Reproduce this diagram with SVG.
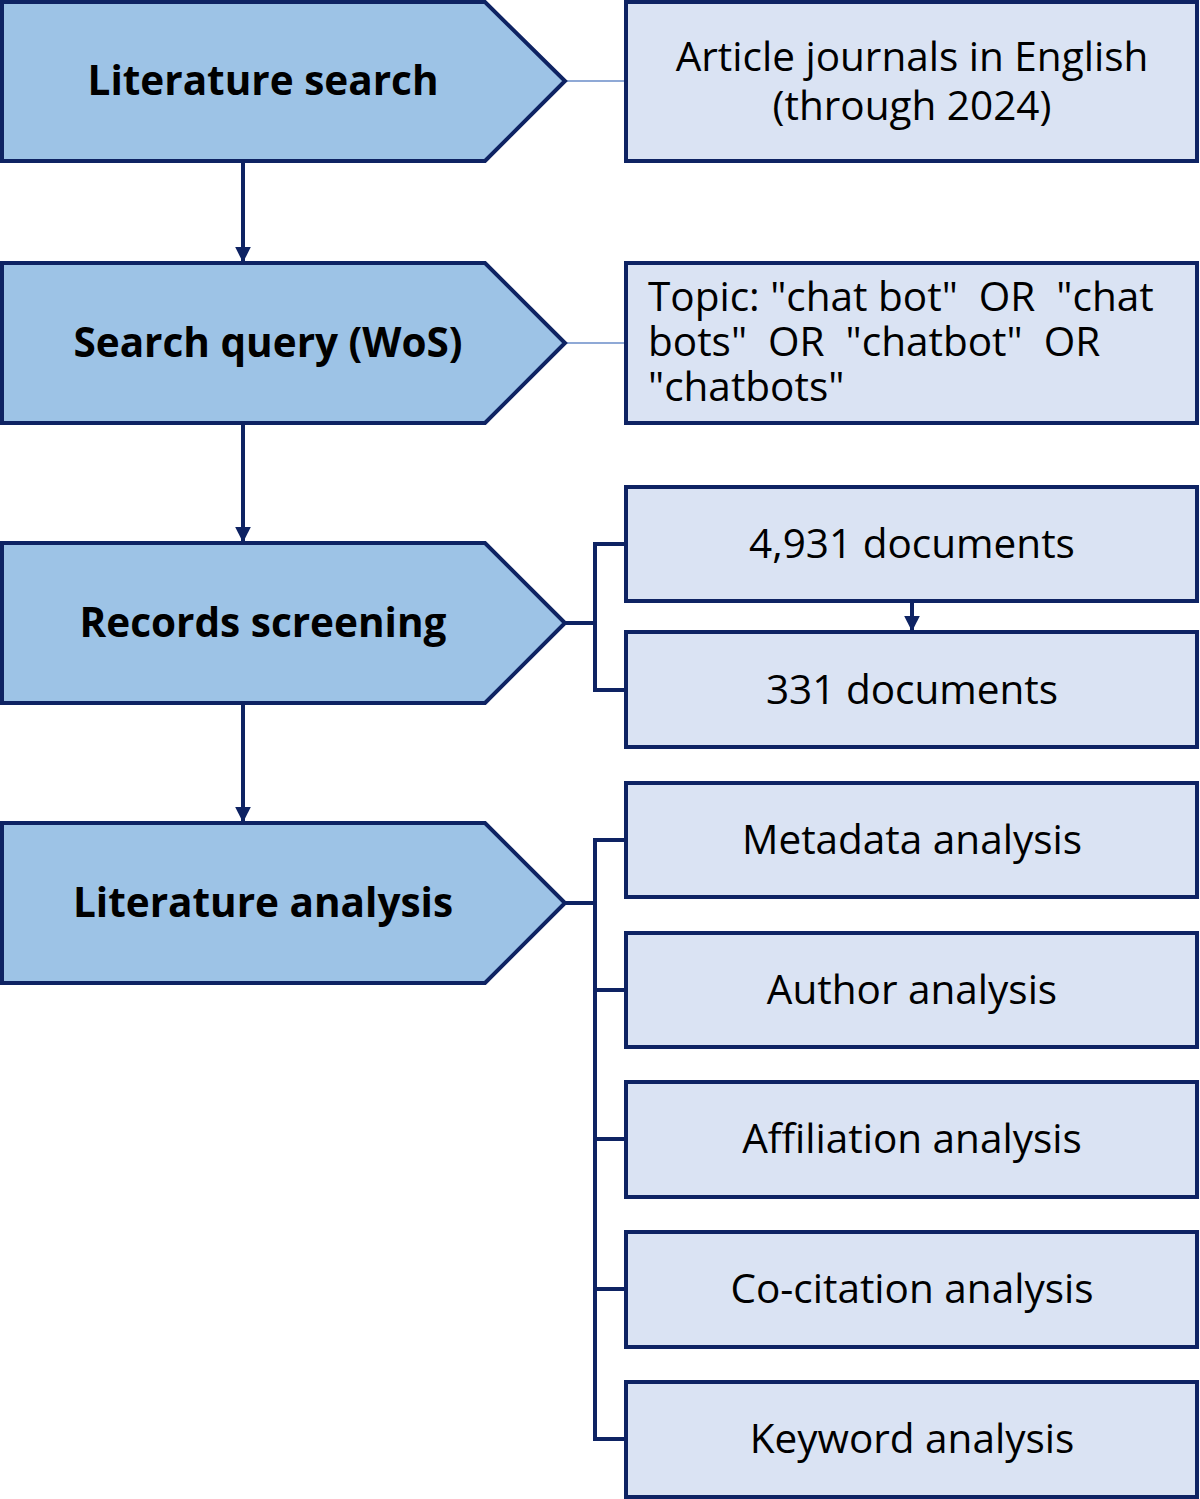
<svg xmlns="http://www.w3.org/2000/svg" width="1200" height="1499" viewBox="0 0 1200 1499">
<style>
.p{fill:#9dc3e6;stroke:#0e2363;stroke-width:4}
.b{fill:#dae3f3;stroke:#0e2363;stroke-width:4}
.lt{font-family:"Open Sans",sans-serif;font-weight:bold;font-size:40.5px;fill:#000;text-anchor:middle}
.rt{font-family:"Open Sans",sans-serif;font-size:40.5px;fill:#000;text-anchor:middle}
.st{text-anchor:start}
.c{fill:none;stroke:#0e2363;stroke-width:4}
.thin{fill:none;stroke:#8fa9d6;stroke-width:2}
</style>
<defs><marker id="a" viewBox="0 0 10 10" refX="9" refY="5" markerWidth="4" markerHeight="4" orient="auto"><path d="M0,0L10,5L0,10z" fill="#0e2363"/></marker></defs>
<g id="connectors">
<line class="thin" x1="565" y1="81" x2="626" y2="81"/>
<line class="thin" x1="565" y1="343" x2="626" y2="343"/>
<line class="c" x1="243" y1="161" x2="243" y2="261" marker-end="url(#a)"/>
<line class="c" x1="243" y1="423" x2="243" y2="541" marker-end="url(#a)"/>
<line class="c" x1="243" y1="703" x2="243" y2="821" marker-end="url(#a)"/>
<line class="c" x1="912" y1="601" x2="912" y2="630" marker-end="url(#a)"/>
<path class="c" d="M565,623H595M626,544H595V690H626"/>
<path class="c" d="M565,903H595M626,840H595V1439H626M595,990H626M595,1139H626M595,1289H626"/>
</g>
<g id="n1"><path class="p" d="M2,2H485L565,81L485,161H2Z"/><text class="lt" x="263" y="95">Literature search</text></g>
<g id="n2"><path class="p" d="M2,263H485L565,343L485,423H2Z"/><text class="lt" x="268" y="357">Search query (WoS)</text></g>
<g id="n3"><path class="p" d="M2,543H485L565,623L485,703H2Z"/><text class="lt" x="263" y="637">Records screening</text></g>
<g id="n4"><path class="p" d="M2,823H485L565,903L485,983H2Z"/><text class="lt" x="263" y="917">Literature analysis</text></g>
<g id="r1"><rect class="b" x="626" y="2" width="571" height="159"/><text class="rt" x="912" y="71">Article journals in English</text><text class="rt" x="912" y="120">(through 2024)</text></g>
<g id="r2"><rect class="b" x="626" y="263" width="571" height="160"/><text class="rt st" x="648" y="311" xml:space="preserve">Topic: "chat bot"  OR  "chat</text><text class="rt st" x="648" y="356" xml:space="preserve">bots"  OR  "chatbot"  OR</text><text class="rt st" x="648" y="401">"chatbots"</text></g>
<g id="r3"><rect class="b" x="626" y="487" width="571" height="114"/><text class="rt" x="912" y="558">4,931 documents</text></g>
<g id="r4"><rect class="b" x="626" y="632" width="571" height="115"/><text class="rt" x="912" y="704">331 documents</text></g>
<g id="r5"><rect class="b" x="626" y="783" width="571" height="114"/><text class="rt" x="912" y="854">Metadata analysis</text></g>
<g id="r6"><rect class="b" x="626" y="933" width="571" height="114"/><text class="rt" x="912" y="1004">Author analysis</text></g>
<g id="r7"><rect class="b" x="626" y="1082" width="571" height="115"/><text class="rt" x="912" y="1153">Affiliation analysis</text></g>
<g id="r8"><rect class="b" x="626" y="1232" width="571" height="115"/><text class="rt" x="912" y="1303">Co-citation analysis</text></g>
<g id="r9"><rect class="b" x="626" y="1382" width="571" height="115"/><text class="rt" x="912" y="1453">Keyword analysis</text></g>
</svg>
